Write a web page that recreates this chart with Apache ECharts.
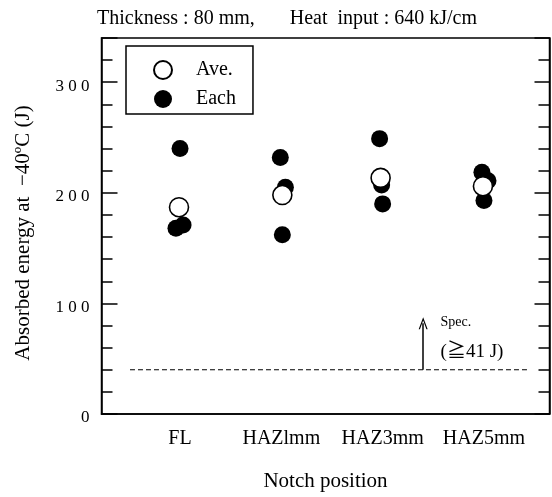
<!DOCTYPE html>
<html>
<head>
<meta charset="utf-8">
<script src="https://cdn.jsdelivr.net/npm/echarts@6/dist/echarts.min.js"></script>
<style>html,body{margin:0;padding:0;background:#fff;}#c{width:552px;height:497px;}</style>
</head>
<body>
<div id="c"></div>
<script>
// ---- data ----
var categories = ['FL', 'HAZlmm', 'HAZ3mm', 'HAZ5mm'];
var categoryPos = [1, 2, 3, 4];
// individual measurements (x position includes slight plotting offset as in the figure)
var eachX = [1.00, 0.96, 1.03, 1.99, 2.04, 2.01, 2.97, 2.99, 3.00, 3.98, 4.04, 4.00];
var eachY = [240, 168, 171, 232, 205, 162, 249, 207, 190, 218.5, 211, 193];
var aveX = [0.99, 2.01, 2.98, 3.99];
var aveY = [187, 198, 213.5, 206];
var specLineY = 40;          // dashed line as drawn in the figure
var specLineX = [0.506, 4.435];
var specArrowX = 3.40;
var specArrowTop = 82;
var yTicks = [0, 100, 200, 300];

var FONT = "'Liberation Serif','Times New Roman',serif";
var chart = echarts.init(document.getElementById('c'), null, {renderer: 'canvas'});

function pairs(xs, ys) { return xs.map(function (x, i) { return [x, ys[i]]; }); }

var option = {
  animation: false,
  backgroundColor: '#fff',
  title: {
    text: 'Thickness : 80 mm,       Heat  input : 640 kJ/cm',
    left: 92, top: 4,
    textStyle: {fontFamily: FONT, fontSize: 20, fontWeight: 'normal', color: '#000'}
  },
  grid: {left: 101.5, right: 2.5, top: 38, bottom: 77.7, show: true, borderColor: '#000', borderWidth: 1.5, backgroundColor: 'transparent'},
  legend: {
    data: ['Ave.', 'Each'],
    orient: 'vertical',
    left: 126, top: 46,
    padding: [14, 17, 5, 27],
    itemGap: 9,
    itemWidth: 18, itemHeight: 18,
    borderColor: '#000', borderWidth: 1.5, backgroundColor: '#fff',
    textStyle: {fontFamily: FONT, fontSize: 20, color: '#000', padding: [0, 0, 0, 19]}
  },
  xAxis: {
    type: 'value', min: 0.225, max: 4.647,
    name: 'Notch position', nameLocation: 'middle', nameGap: 57,
    nameTextStyle: {fontFamily: FONT, fontSize: 21, color: '#000'},
    axisLine: {show: true, lineStyle: {color: '#000', width: 1.5}},
    axisTick: {show: false},
    splitLine: {show: false},
    axisLabel: {
      customValues: categoryPos,
      formatter: function (v) { var i = categoryPos.indexOf(Math.round(v)); return i >= 0 ? categories[i] : ''; },
      fontFamily: FONT, fontSize: 20, color: '#000', margin: 15
    }
  },
  yAxis: [{
    type: 'value', min: 0, max: 340, interval: 100, position: 'left',
    name: 'Absorbed energy at  \u221240\u00baC (J)', nameLocation: 'middle', nameGap: 68, nameRotate: 90,
    nameTextStyle: {fontFamily: FONT, fontSize: 21, color: '#000', padding: [0, 14, 0, 0]},
    axisLine: {show: true, lineStyle: {color: '#000', width: 1.5}},
    axisTick: {show: true, inside: true, length: 16, lineStyle: {color: '#000', width: 1.5}},
    minorTick: {show: true, splitNumber: 5, length: 11, lineStyle: {color: '#000', width: 1.5}},
    splitLine: {show: false},
    axisLabel: {
      customValues: yTicks,
      formatter: function (v) { return String(v).split('').join(' '); },
      fontFamily: FONT, fontSize: 17, color: '#000', margin: 12,
      verticalAlign: 'top', lineHeight: 8
    }
  }, {
    type: 'value', min: 0, max: 340, interval: 100, position: 'right',
    axisLine: {show: true, lineStyle: {color: '#000', width: 1.5}},
    axisTick: {show: true, inside: true, length: 15, lineStyle: {color: '#000', width: 1.5}},
    minorTick: {show: true, splitNumber: 5, length: 11, lineStyle: {color: '#000', width: 1.5}},
    splitLine: {show: false},
    axisLabel: {show: false}
  }],
  series: [
    {
      name: 'Spec', type: 'line', data: pairs(specLineX, [specLineY, specLineY]),
      symbol: 'none', silent: true,
      lineStyle: {color: '#000', width: 1.2, type: [5, 3]},
      markLine: {
        silent: true, symbol: ['none', 'path://M0,12 L5,0 L10,12 L8.6,12 L5,3.2 L1.4,12 Z'], symbolSize: [9, 12],
        label: {show: false},
        lineStyle: {color: '#000', width: 1.5, type: 'solid'},
        data: [[{coord: [specArrowX, specLineY]}, {coord: [specArrowX, specArrowTop]}]]
      },
      markPoint: {
        silent: true, symbol: 'circle', symbolSize: 1,
        itemStyle: {color: 'rgba(0,0,0,0)'},
        data: [
          {name: 'Spec.', coord: [3.567, 82.6], label: {fontSize: 14}},
          {name: '(\u226741 J)', coord: [3.567, 55.7], label: {fontSize: 19}}
        ],
        label: {show: true, position: 'right', distance: 0, formatter: '{b}', color: '#000',
          fontFamily: "'Liberation Serif','Times New Roman','Noto Sans CJK JP',serif"}
      }
    },
    {
      name: 'Each', type: 'scatter', data: pairs(eachX, eachY),
      symbol: 'circle', symbolSize: 17, z: 2,
      itemStyle: {color: '#000', opacity: 1}
    },
    {
      name: 'Ave.', type: 'scatter', data: pairs(aveX, aveY),
      symbol: 'circle', symbolSize: 19, z: 3,
      itemStyle: {color: '#fff', borderColor: '#000', borderWidth: 1.6, opacity: 1}
    }
  ]
};
chart.setOption(option);
</script>
</body>
</html>
